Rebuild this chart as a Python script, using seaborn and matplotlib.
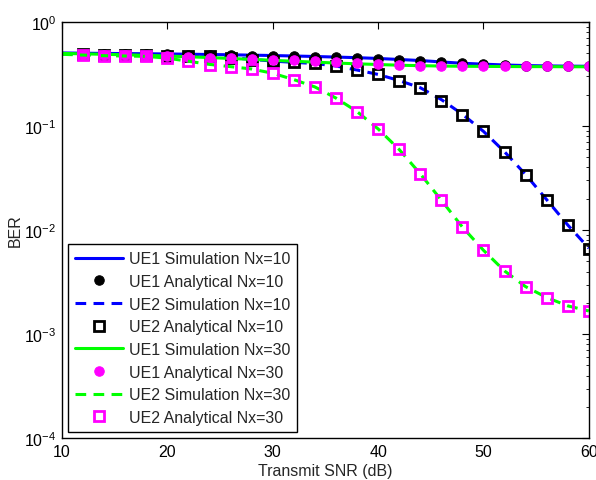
import matplotlib
matplotlib.use("Agg")
import matplotlib.pyplot as plt
import matplotlib.ticker as mticker
import seaborn as sns

# SNR grid (dB)
snr_sim = [10, 12, 14, 16, 18, 20, 22, 24, 26, 28, 30, 32, 34, 36, 38, 40,
           42, 44, 46, 48, 50, 52, 54, 56, 58, 60]
snr_ana = snr_sim[1:]

# UE1, Nx=10
ue1_sim_10 = [0.505, 0.502, 0.500, 0.498, 0.496, 0.494, 0.491, 0.488, 0.485, 0.481,
              0.477, 0.472, 0.467, 0.461, 0.455, 0.447, 0.437, 0.427, 0.414, 0.402,
              0.394, 0.387, 0.382, 0.379, 0.377, 0.376]
ue1_ana_10 = [0.497, 0.495, 0.493, 0.491, 0.489, 0.487, 0.484, 0.481, 0.477, 0.473,
              0.469, 0.465, 0.462, 0.455, 0.445, 0.435, 0.426, 0.412, 0.400, 0.392,
              0.386, 0.381, 0.378, 0.377, 0.376]
# UE2, Nx=10
ue2_sim_10 = [0.495, 0.490, 0.486, 0.483, 0.480, 0.476, 0.473, 0.469, 0.455, 0.438,
              0.422, 0.410, 0.400, 0.378, 0.346, 0.314, 0.274, 0.234, 0.180, 0.130,
              0.0890, 0.0566, 0.0342, 0.0196, 0.0112, 0.0067]
ue2_ana_10 = [0.490, 0.486, 0.483, 0.480, 0.475, 0.473, 0.470, 0.452, 0.435, 0.420,
              0.410, 0.403, 0.380, 0.346, 0.314, 0.272, 0.232, 0.176, 0.128, 0.089,
              0.0566, 0.0342, 0.0196, 0.0112, 0.0066]
# UE1, Nx=30
ue1_sim_30 = [0.500, 0.495, 0.490, 0.485, 0.479, 0.472, 0.464, 0.456, 0.447, 0.438,
              0.429, 0.420, 0.412, 0.404, 0.397, 0.391, 0.385, 0.381, 0.378, 0.376,
              0.375, 0.374, 0.373, 0.373, 0.372, 0.372]
ue1_ana_30 = [0.485, 0.480, 0.478, 0.472, 0.468, 0.465, 0.455, 0.450, 0.442, 0.435,
              0.430, 0.420, 0.410, 0.400, 0.393, 0.387, 0.380, 0.377, 0.376, 0.376,
              0.375, 0.375, 0.375, 0.375, 0.375]
# UE2, Nx=30
ue2_sim_30 = [0.490, 0.482, 0.475, 0.472, 0.468, 0.450, 0.420, 0.392, 0.373, 0.354,
              0.322, 0.280, 0.238, 0.186, 0.138, 0.094, 0.0596, 0.0348, 0.0194, 0.0107,
              0.0064, 0.00405, 0.00286, 0.00225, 0.00187, 0.00167]
ue2_ana_30 = [0.482, 0.475, 0.472, 0.468, 0.450, 0.420, 0.390, 0.373, 0.354, 0.322,
              0.280, 0.240, 0.186, 0.138, 0.094, 0.0596, 0.0348, 0.0194, 0.0107, 0.0064,
              0.00405, 0.00286, 0.00225, 0.00187, 0.00167]

sns.set_style("white")
plt.rcParams["font.family"] = ["Liberation Sans", "DejaVu Sans"]
plt.rcParams["mathtext.fontset"] = "custom"
plt.rcParams["mathtext.rm"] = "Liberation Sans"
plt.rcParams["mathtext.it"] = "Liberation Sans"

fs = 11.5

fig = plt.figure(figsize=(5.96, 4.81), dpi=100)
ax = fig.add_axes([0.104, 0.087, 0.884, 0.865])

lw = 2.2
dash = (3.5, 2.4)

sns.lineplot(x=snr_sim, y=ue1_sim_10, ax=ax, color="#0000ff", lw=lw,
             label="UE1 Simulation Nx=10")
sns.lineplot(x=snr_ana, y=ue1_ana_10, ax=ax, color="black", linestyle="none",
             marker="o", markersize=6.8, markeredgecolor="black",
             label="UE1 Analytical Nx=10")
sns.lineplot(x=snr_sim, y=ue2_sim_10, ax=ax, color="#0000ff", lw=lw,
             dashes=dash, label="UE2 Simulation Nx=10")
sns.lineplot(x=snr_ana, y=ue2_ana_10, ax=ax, color="black", linestyle="none",
             marker="s", markersize=7.3, markerfacecolor="none",
             markeredgecolor="black", markeredgewidth=2,
             label="UE2 Analytical Nx=10")
sns.lineplot(x=snr_sim, y=ue1_sim_30, ax=ax, color="#00ff00", lw=lw,
             label="UE1 Simulation Nx=30")
sns.lineplot(x=snr_ana, y=ue1_ana_30, ax=ax, color="#ff00ff", linestyle="none",
             marker="o", markersize=6.8, markeredgecolor="#ff00ff",
             label="UE1 Analytical Nx=30")
sns.lineplot(x=snr_sim, y=ue2_sim_30, ax=ax, color="#00ff00", lw=lw,
             dashes=dash, label="UE2 Simulation Nx=30")
sns.lineplot(x=snr_ana, y=ue2_ana_30, ax=ax, color="#ff00ff", linestyle="none",
             marker="s", markersize=7.3, markerfacecolor="none",
             markeredgecolor="#ff00ff", markeredgewidth=2,
             label="UE2 Analytical Nx=30")

ax.set_yscale("log")
ax.set_xlim(10, 60)
ax.set_ylim(1e-4, 1)
ax.set_xticks([10, 20, 30, 40, 50, 60])
ax.yaxis.set_major_locator(mticker.LogLocator(base=10, numticks=10))
ax.yaxis.set_minor_locator(mticker.LogLocator(base=10, subs=range(2, 10), numticks=10))
ax.tick_params(which="both", direction="in", top=True, right=True, labelsize=fs,
               colors="black")
ax.tick_params(which="major", length=5, width=0.8, pad=4)
ax.tick_params(which="minor", length=2.5, width=0.6)
for s in ax.spines.values():
    s.set_color("black")
    s.set_linewidth(1)

ax.set_xlabel("Transmit SNR (dB)", fontsize=fs, labelpad=3)
ax.set_ylabel("BER", fontsize=fs, labelpad=1)

leg = ax.legend(loc="lower left", fontsize=fs, fancybox=False, framealpha=1,
                edgecolor="black", handlelength=3.0, labelspacing=0.48,
                borderaxespad=0.38, borderpad=0.45, handletextpad=0.35)
leg.get_frame().set_linewidth(1)

fig.savefig("out.png", dpi=100)
